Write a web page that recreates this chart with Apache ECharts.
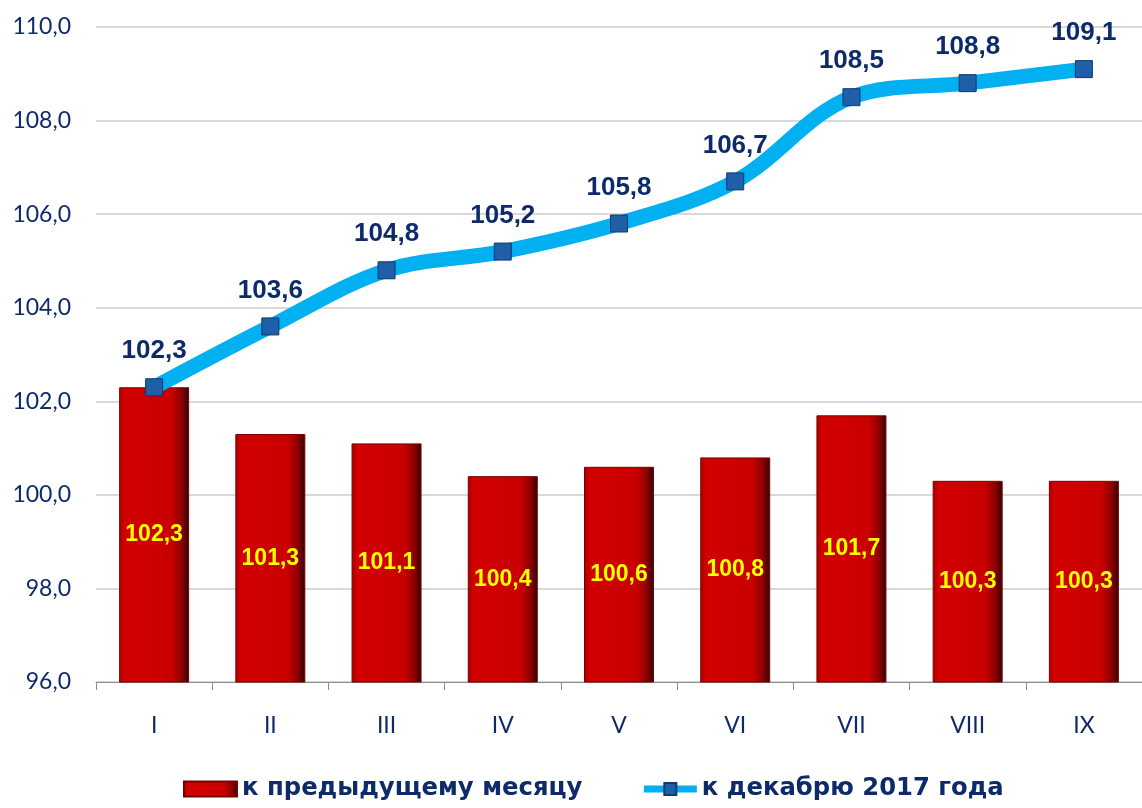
<!DOCTYPE html>
<html>
<head>
<meta charset="utf-8">
<script src="https://cdn.jsdelivr.net/npm/echarts@6/dist/echarts.min.js"></script>
<style>
html, body { margin: 0; padding: 0; background: #fff; }
#chart { width: 1142px; height: 808px; }
</style>
</head>
<body>
<div id="chart"></div>
<script>
var months = ['I', 'II', 'III', 'IV', 'V', 'VI', 'VII', 'VIII', 'IX'];
// к предыдущему месяцу
var monthly = [102.3, 101.3, 101.1, 100.4, 100.6, 100.8, 101.7, 100.3, 100.3];
// к декабрю 2017 года
var toDecember = [102.3, 103.6, 104.8, 105.2, 105.8, 106.7, 108.5, 108.8, 109.1];
var yMin = 96, yMax = 110, yStep = 2;

function comma(v) {
    return v.toFixed(1).replace('.', ',');
}

var myChart = echarts.init(document.getElementById('chart'));

var barColor = new echarts.graphic.LinearGradient(0, 0, 1, 0, [
    { offset: 0, color: '#a80000' },
    { offset: 0.08, color: '#d30000' },
    { offset: 0.75, color: '#c90000' },
    { offset: 0.9, color: '#8a0000' },
    { offset: 1, color: '#2b0505' }
]);

var option = {
    backgroundColor: '#fff',
    animation: false,
    grid: { left: 96, right: -11, top: 27, bottom: 126 },
    legend: {
        bottom: 2,
        left: 178,
        itemGap: 58,
        itemWidth: 53,
        itemHeight: 15,
        textStyle: { fontFamily: 'DejaVu Sans', fontWeight: 'bold', fontSize: 24.3, color: '#0d2a6b' },
        data: [
            { name: 'к предыдущему месяцу', icon: 'rect' },
            { name: 'к декабрю 2017 года', lineStyle: { width: 7, color: '#00b0f0' } }
        ]
    },
    xAxis: {
        type: 'category',
        data: months,
        axisLine: { lineStyle: { color: '#8c8c8c', width: 1 } },
        axisTick: { show: true, length: 8, lineStyle: { color: '#8c8c8c' } },
        axisLabel: { color: '#0d2a6b', fontFamily: 'Lato', fontSize: 23, margin: 32 }
    },
    yAxis: {
        type: 'value',
        min: yMin,
        max: yMax,
        interval: yStep,
        axisLine: { show: false },
        axisTick: { show: false },
        splitLine: { lineStyle: { color: '#d9d9d9', width: 2 } },
        axisLabel: { color: '#0d2a6b', fontFamily: 'Lato', fontSize: 23, margin: 25, formatter: comma }
    },
    series: [
        {
            name: 'к предыдущему месяцу',
            type: 'bar',
            data: monthly,
            barWidth: 70,
            itemStyle: { color: barColor, borderColor: '#7a0000', borderWidth: 1 },
            label: {
                show: true,
                position: 'inside',
                color: '#ffff00',
                fontFamily: 'Liberation Sans',
                fontWeight: 'bold',
                fontSize: 23,
                formatter: function (p) { return comma(p.value); }
            }
        },
        {
            name: 'к декабрю 2017 года',
            type: 'line',
            data: toDecember,
            smooth: 0.35,
            z: 5,
            lineStyle: { color: '#00b0f0', width: 15 },
            symbol: 'rect',
            symbolSize: 17,
            itemStyle: { color: '#1f5fa8', borderColor: '#0d3a70', borderWidth: 1 },
            label: {
                show: true,
                position: 'top',
                distance: 14,
                color: '#0d2a6b',
                fontFamily: 'Liberation Sans',
                fontWeight: 'bold',
                fontSize: 26,
                formatter: function (p) { return comma(p.value); }
            }
        }
    ]
};

myChart.setOption(option);
</script>
</body>
</html>
